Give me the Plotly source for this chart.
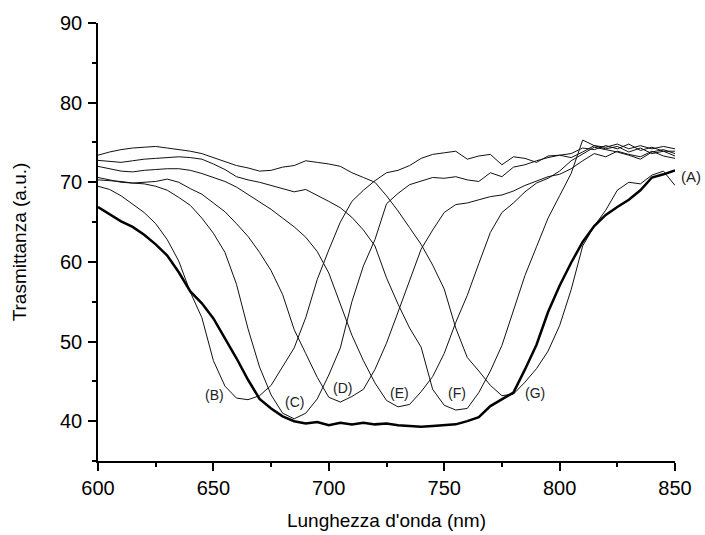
import plotly.graph_objects as go

wavelength = list(range(600, 851, 5))

curve_A = [66.9, 66.0, 65.1, 64.4, 63.4, 62.2, 60.8, 58.7, 56.3, 54.8, 52.9, 50.4, 47.9, 45.2, 42.8, 41.6,
           40.6, 40.0, 39.7, 39.9, 39.5, 39.8, 39.6, 39.8, 39.6, 39.7, 39.5, 39.4, 39.3, 39.4, 39.5, 39.6,
           40.0, 40.5, 41.9, 42.8, 43.6, 46.5, 49.6, 53.7, 57.0, 59.9, 62.5, 64.5, 65.9, 66.9, 67.8, 69.0,
           70.6, 71.0, 71.5]
curve_B = [69.5, 69.1, 68.3, 67.3, 66.2, 64.8, 62.8, 60.1, 56.2, 53.0, 47.6, 44.4, 42.9, 42.7, 43.2, 44.5,
           46.9, 49.2, 53.0, 57.8, 61.5, 65.0, 67.6, 69.0, 70.2, 71.2, 71.5, 72.1, 73.0, 73.5, 73.7, 73.9,
           72.9, 73.3, 73.5, 72.2, 73.2, 73.0, 72.5, 73.3, 73.4, 73.6, 74.3, 74.1, 74.6, 74.2, 74.8, 74.0,
           74.4, 73.9, 73.9]
curve_C = [70.3, 70.2, 70.1, 69.9, 69.8, 69.5, 69.0, 68.1, 67.1, 65.5, 63.6, 61.2, 57.2, 51.6, 46.8, 43.3,
           41.0, 40.3, 41.0, 42.8, 45.8, 49.2, 55.0, 59.5, 62.8, 67.3, 68.6, 69.7, 70.2, 70.6, 70.5, 70.7,
           70.3, 70.1, 71.2, 70.7, 71.9, 72.2, 72.7, 73.1, 73.4, 73.1, 73.8, 74.6, 74.2, 74.5, 73.8, 74.3,
           73.6, 73.9, 73.3]
curve_D = [70.6, 70.3, 70.0, 69.9, 70.0, 70.1, 70.4, 70.0, 69.2, 68.5, 67.4, 66.3, 64.8, 63.2, 61.2, 58.9,
           55.9, 51.5, 48.5, 45.5, 43.0, 42.4, 43.1, 44.0, 46.5, 49.8, 53.7, 57.6, 61.6, 64.0, 66.2, 67.2,
           67.4, 67.8, 68.2, 68.4, 68.9, 69.6, 70.2, 70.7, 71.0, 71.7, 72.7, 73.6, 73.2, 73.9, 73.5, 73.2,
           73.9, 73.3, 73.0]
curve_E = [72.0, 71.7, 71.4, 71.3, 71.5, 71.6, 71.7, 71.7, 71.5, 71.1, 70.6, 70.1, 69.4, 68.5, 67.6, 66.6,
           65.5, 64.4, 63.1, 61.3, 58.6, 54.8, 50.8, 47.6, 44.8, 42.6, 41.8, 42.1, 43.7, 45.6, 48.5, 52.4,
           55.8, 59.8, 63.7, 66.2, 67.4, 68.8, 69.9, 70.5, 71.4, 72.7, 73.6, 74.4, 74.1, 73.8, 73.4, 72.9,
           73.8, 74.1, 73.6]
curve_F = [72.75, 72.6, 72.5, 72.7, 72.9, 73.0, 73.1, 73.2, 73.1, 72.9, 72.3, 71.6, 70.7, 70.3, 70.0, 69.6,
           69.2, 68.8, 69.1, 68.4, 67.6, 66.8, 65.6, 64.0, 62.0, 58.0, 54.7, 51.7, 49.3, 44.0, 42.0, 41.4,
           41.6, 43.6, 46.3, 49.5, 54.0, 58.3, 61.9, 65.5, 68.3, 71.1, 75.3, 74.6, 74.4, 74.8, 74.2, 74.6,
           74.2, 74.5, 74.2]
curve_G = [73.4, 73.8, 74.1, 74.3, 74.4, 74.5, 74.3, 74.1, 73.9, 73.6, 73.1, 72.6, 72.1, 71.8, 71.4, 71.5,
           71.9, 72.1, 72.7, 72.5, 72.3, 72.0, 71.2, 70.6, 70.0, 68.3, 66.4, 64.3, 62.2, 59.6, 56.6, 51.7,
           48.0, 46.3, 44.5, 43.2, 43.4, 44.9, 46.6, 48.8, 52.0, 56.5, 62.0, 64.5, 66.5, 69.0, 70.0, 69.8,
           70.9, 71.4, 69.6]

label_text = ["(B)", "(C)", "(D)", "(E)", "(F)", "(G)"]
label_x = [650.5, 685.1, 705.8, 730.8, 755.4, 789.5]
label_y = [43.35, 42.35, 44.2, 43.5, 43.5, 43.5]
label_A_y = 70.7

FONT = "Liberation Sans, Arial, sans-serif"

fig = go.Figure()
thin = [curve_B, curve_C, curve_D, curve_E, curve_F, curve_G]
for ys in thin:
    fig.add_trace(go.Scatter(x=wavelength, y=ys, mode="lines",
                             line=dict(color="#111111", width=1), showlegend=False,
                             hoverinfo="skip"))
fig.add_trace(go.Scatter(x=wavelength, y=curve_A, mode="lines",
                         line=dict(color="#000000", width=2.5), showlegend=False,
                         hoverinfo="skip"))

for t, lx, ly in zip(label_text, label_x, label_y):
    fig.add_annotation(x=lx, y=ly, text=t, showarrow=False,
                       font=dict(family=FONT, size=14, color="#222222"),
                       xanchor="center", yanchor="middle")
fig.add_annotation(x=wavelength[-1], y=label_A_y, text="(A)", showarrow=False,
                   font=dict(family=FONT, size=15, color="#222222"),
                   xanchor="left", yanchor="middle", xshift=4)

axis_common = dict(
    showline=True, linecolor="black", linewidth=1.5, mirror=False,
    ticks="outside", ticklen=8, tickwidth=1.5, tickcolor="black",
    showgrid=False, zeroline=False, automargin=False,
    tickfont=dict(family=FONT, size=20, color="black"),
)

fig.update_xaxes(range=[600, 850], tickvals=[600, 650, 700, 750, 800, 850],
                 minor=dict(dtick=25, ticks="outside", ticklen=4, tickwidth=1.5, tickcolor="black"),
                 title=dict(text="Lunghezza d'onda (nm)", font=dict(family=FONT, size=19, color="black"), standoff=16),
                 **axis_common)
fig.update_yaxes(range=[35, 90], tickvals=[40, 50, 60, 70, 80, 90],
                 minor=dict(dtick=5, ticks="outside", ticklen=4, tickwidth=1.5, tickcolor="black"),
                 ticklabelstandoff=2,
                 title=dict(text="Trasmittanza (a.u.)", font=dict(family=FONT, size=19, color="black"), standoff=28),
                 **axis_common)

fig.update_layout(width=705, height=535, autosize=False,
                  margin=dict(l=98, r=30, t=23, b=74),
                  plot_bgcolor="white", paper_bgcolor="white")

fig.write_html("out.html", config={"displayModeBar": False},
               post_script="document.body.style.margin='0';document.body.style.overflow='hidden';")
